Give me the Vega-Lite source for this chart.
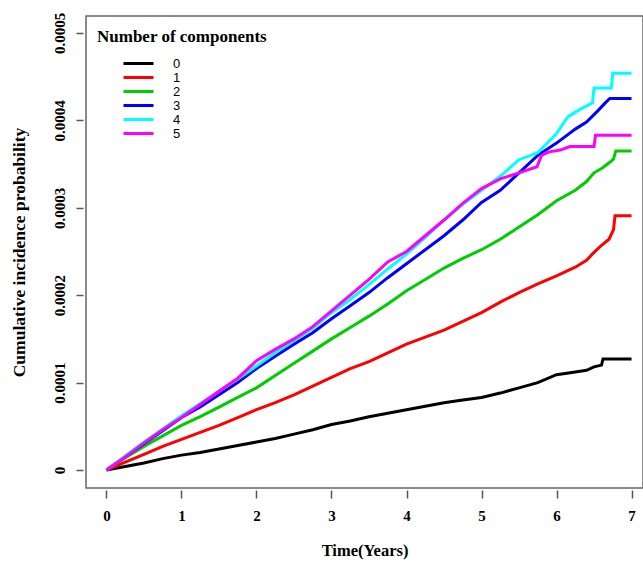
{
 "$schema": "https://vega.github.io/schema/vega-lite/v6.json",
 "width": 557, "height": 472,
 "autosize": "none",
 "padding": {"left": 86, "top": 16, "right": 0, "bottom": 74},
 "background": "white",
 "config": {"view": {"stroke": "#666666", "strokeWidth": 1.5}},
 "datasets": {"curves": [
  {"g":"0","t":0,"v":0},{"g":"0","t":0.25,"v":0.04e-4},{"g":"0","t":0.5,"v":0.08e-4},{"g":"0","t":0.75,"v":0.13e-4},{"g":"0","t":1,"v":0.17e-4},{"g":"0","t":1.25,"v":0.2e-4},{"g":"0","t":1.5,"v":0.24e-4},{"g":"0","t":1.75,"v":0.28e-4},{"g":"0","t":2,"v":0.32e-4},{"g":"0","t":2.25,"v":0.36e-4},{"g":"0","t":2.5,"v":0.41e-4},{"g":"0","t":2.75,"v":0.46e-4},{"g":"0","t":3,"v":0.52e-4},{"g":"0","t":3.25,"v":0.56e-4},{"g":"0","t":3.5,"v":0.61e-4},{"g":"0","t":3.75,"v":0.65e-4},{"g":"0","t":4,"v":0.69e-4},{"g":"0","t":4.25,"v":0.73e-4},{"g":"0","t":4.5,"v":0.77e-4},{"g":"0","t":4.75,"v":0.8e-4},{"g":"0","t":5,"v":0.83e-4},{"g":"0","t":5.25,"v":0.88e-4},{"g":"0","t":5.5,"v":0.94e-4},{"g":"0","t":5.75,"v":1.0e-4},{"g":"0","t":6,"v":1.09e-4},{"g":"0","t":6.25,"v":1.12e-4},{"g":"0","t":6.4,"v":1.14e-4},{"g":"0","t":6.5,"v":1.18e-4},{"g":"0","t":6.6,"v":1.2e-4},{"g":"0","t":6.62,"v":1.27e-4},{"g":"0","t":7,"v":1.27e-4},
  {"g":"1","t":0,"v":0},{"g":"1","t":0.25,"v":0.09e-4},{"g":"1","t":0.5,"v":0.18e-4},{"g":"1","t":0.75,"v":0.27e-4},{"g":"1","t":1,"v":0.35e-4},{"g":"1","t":1.25,"v":0.43e-4},{"g":"1","t":1.5,"v":0.51e-4},{"g":"1","t":1.75,"v":0.6e-4},{"g":"1","t":2,"v":0.69e-4},{"g":"1","t":2.25,"v":0.77e-4},{"g":"1","t":2.5,"v":0.86e-4},{"g":"1","t":2.75,"v":0.96e-4},{"g":"1","t":3,"v":1.06e-4},{"g":"1","t":3.25,"v":1.16e-4},{"g":"1","t":3.5,"v":1.24e-4},{"g":"1","t":3.75,"v":1.34e-4},{"g":"1","t":4,"v":1.44e-4},{"g":"1","t":4.25,"v":1.52e-4},{"g":"1","t":4.5,"v":1.6e-4},{"g":"1","t":4.75,"v":1.7e-4},{"g":"1","t":5,"v":1.8e-4},{"g":"1","t":5.25,"v":1.92e-4},{"g":"1","t":5.5,"v":2.03e-4},{"g":"1","t":5.75,"v":2.13e-4},{"g":"1","t":6,"v":2.22e-4},{"g":"1","t":6.25,"v":2.32e-4},{"g":"1","t":6.4,"v":2.4e-4},{"g":"1","t":6.5,"v":2.49e-4},{"g":"1","t":6.6,"v":2.57e-4},{"g":"1","t":6.7,"v":2.64e-4},{"g":"1","t":6.76,"v":2.75e-4},{"g":"1","t":6.78,"v":2.91e-4},{"g":"1","t":7,"v":2.91e-4},
  {"g":"2","t":0,"v":0},{"g":"2","t":0.25,"v":0.14e-4},{"g":"2","t":0.5,"v":0.27e-4},{"g":"2","t":0.75,"v":0.39e-4},{"g":"2","t":1,"v":0.51e-4},{"g":"2","t":1.25,"v":0.61e-4},{"g":"2","t":1.5,"v":0.72e-4},{"g":"2","t":1.75,"v":0.83e-4},{"g":"2","t":2,"v":0.94e-4},{"g":"2","t":2.25,"v":1.08e-4},{"g":"2","t":2.5,"v":1.22e-4},{"g":"2","t":2.75,"v":1.36e-4},{"g":"2","t":3,"v":1.5e-4},{"g":"2","t":3.25,"v":1.63e-4},{"g":"2","t":3.5,"v":1.76e-4},{"g":"2","t":3.75,"v":1.9e-4},{"g":"2","t":4,"v":2.05e-4},{"g":"2","t":4.25,"v":2.18e-4},{"g":"2","t":4.5,"v":2.31e-4},{"g":"2","t":4.75,"v":2.42e-4},{"g":"2","t":5,"v":2.52e-4},{"g":"2","t":5.25,"v":2.64e-4},{"g":"2","t":5.5,"v":2.78e-4},{"g":"2","t":5.75,"v":2.92e-4},{"g":"2","t":6,"v":3.08e-4},{"g":"2","t":6.25,"v":3.2e-4},{"g":"2","t":6.4,"v":3.3e-4},{"g":"2","t":6.5,"v":3.4e-4},{"g":"2","t":6.6,"v":3.45e-4},{"g":"2","t":6.71,"v":3.52e-4},{"g":"2","t":6.76,"v":3.56e-4},{"g":"2","t":6.79,"v":3.65e-4},{"g":"2","t":7,"v":3.65e-4},
  {"g":"3","t":0,"v":0},{"g":"3","t":0.25,"v":0.15e-4},{"g":"3","t":0.5,"v":0.3e-4},{"g":"3","t":0.75,"v":0.45e-4},{"g":"3","t":1,"v":0.6e-4},{"g":"3","t":1.25,"v":0.72e-4},{"g":"3","t":1.5,"v":0.86e-4},{"g":"3","t":1.75,"v":1.0e-4},{"g":"3","t":2,"v":1.16e-4},{"g":"3","t":2.25,"v":1.3e-4},{"g":"3","t":2.5,"v":1.44e-4},{"g":"3","t":2.75,"v":1.57e-4},{"g":"3","t":3,"v":1.73e-4},{"g":"3","t":3.25,"v":1.88e-4},{"g":"3","t":3.5,"v":2.03e-4},{"g":"3","t":3.75,"v":2.2e-4},{"g":"3","t":4,"v":2.36e-4},{"g":"3","t":4.25,"v":2.52e-4},{"g":"3","t":4.5,"v":2.68e-4},{"g":"3","t":4.75,"v":2.86e-4},{"g":"3","t":5,"v":3.06e-4},{"g":"3","t":5.25,"v":3.2e-4},{"g":"3","t":5.5,"v":3.4e-4},{"g":"3","t":5.75,"v":3.6e-4},{"g":"3","t":6,"v":3.74e-4},{"g":"3","t":6.25,"v":3.9e-4},{"g":"3","t":6.4,"v":3.98e-4},{"g":"3","t":6.54,"v":4.1e-4},{"g":"3","t":6.65,"v":4.2e-4},{"g":"3","t":6.71,"v":4.25e-4},{"g":"3","t":7,"v":4.25e-4},
  {"g":"4","t":0,"v":0},{"g":"4","t":0.25,"v":0.16e-4},{"g":"4","t":0.5,"v":0.32e-4},{"g":"4","t":0.75,"v":0.47e-4},{"g":"4","t":1,"v":0.62e-4},{"g":"4","t":1.25,"v":0.76e-4},{"g":"4","t":1.5,"v":0.9e-4},{"g":"4","t":1.75,"v":1.04e-4},{"g":"4","t":2,"v":1.19e-4},{"g":"4","t":2.25,"v":1.34e-4},{"g":"4","t":2.5,"v":1.48e-4},{"g":"4","t":2.75,"v":1.62e-4},{"g":"4","t":3,"v":1.8e-4},{"g":"4","t":3.25,"v":1.95e-4},{"g":"4","t":3.5,"v":2.12e-4},{"g":"4","t":3.75,"v":2.3e-4},{"g":"4","t":4,"v":2.47e-4},{"g":"4","t":4.25,"v":2.66e-4},{"g":"4","t":4.5,"v":2.86e-4},{"g":"4","t":4.75,"v":3.04e-4},{"g":"4","t":5,"v":3.2e-4},{"g":"4","t":5.25,"v":3.36e-4},{"g":"4","t":5.5,"v":3.55e-4},{"g":"4","t":5.75,"v":3.63e-4},{"g":"4","t":6,"v":3.85e-4},{"g":"4","t":6.15,"v":4.04e-4},{"g":"4","t":6.3,"v":4.12e-4},{"g":"4","t":6.48,"v":4.2e-4},{"g":"4","t":6.5,"v":4.37e-4},{"g":"4","t":6.73,"v":4.37e-4},{"g":"4","t":6.75,"v":4.54e-4},{"g":"4","t":7,"v":4.54e-4},
  {"g":"5","t":0,"v":0},{"g":"5","t":0.25,"v":0.15e-4},{"g":"5","t":0.5,"v":0.31e-4},{"g":"5","t":0.75,"v":0.46e-4},{"g":"5","t":1,"v":0.6e-4},{"g":"5","t":1.25,"v":0.75e-4},{"g":"5","t":1.5,"v":0.9e-4},{"g":"5","t":1.75,"v":1.05e-4},{"g":"5","t":2,"v":1.25e-4},{"g":"5","t":2.25,"v":1.38e-4},{"g":"5","t":2.5,"v":1.5e-4},{"g":"5","t":2.75,"v":1.64e-4},{"g":"5","t":3,"v":1.82e-4},{"g":"5","t":3.25,"v":2.0e-4},{"g":"5","t":3.5,"v":2.18e-4},{"g":"5","t":3.75,"v":2.38e-4},{"g":"5","t":4,"v":2.5e-4},{"g":"5","t":4.25,"v":2.68e-4},{"g":"5","t":4.5,"v":2.86e-4},{"g":"5","t":4.75,"v":3.05e-4},{"g":"5","t":5,"v":3.22e-4},{"g":"5","t":5.25,"v":3.33e-4},{"g":"5","t":5.5,"v":3.4e-4},{"g":"5","t":5.74,"v":3.47e-4},{"g":"5","t":5.8,"v":3.6e-4},{"g":"5","t":5.9,"v":3.64e-4},{"g":"5","t":6.05,"v":3.66e-4},{"g":"5","t":6.18,"v":3.7e-4},{"g":"5","t":6.5,"v":3.7e-4},{"g":"5","t":6.52,"v":3.83e-4},{"g":"5","t":7,"v":3.83e-4}
 ]},
 "data": {"name": "curves"},
 "mark": {"type": "line", "interpolate": "linear", "strokeWidth": 3, "clip": true},
 "encoding": {
  "x": {"field": "t", "type": "quantitative",
   "scale": {"domain": [-0.273, 7.153], "nice": false, "zero": false},
   "axis": {"values": [0,1,2,3,4,5,6,7], "title": "Time(Years)", "grid": false, "domain": false, "offset": 2, "tickSize": 8, "tickColor": "#555555", "tickWidth": 1.5, "labelFont": "Liberation Serif", "labelFontWeight": "bold", "labelFontSize": 15, "labelColor": "black", "labelPadding": 10, "labelFlush": false, "titleFont": "Liberation Serif", "titleFontSize": 16.5, "titleFontWeight": "bold", "titleColor": "black", "titlePadding": 19}},
  "y": {"field": "v", "type": "quantitative",
   "scale": {"domain": [-0.0000206, 0.0005194], "nice": false, "zero": false},
   "axis": {"values": [0, 0.0001, 0.0002, 0.0003, 0.0004, 0.0005], "format": ".4~f", "title": "Cumulative incidence probability", "grid": false, "domain": false, "offset": 3, "tickSize": 7, "tickColor": "#555555", "tickWidth": 1.5, "labelFont": "Liberation Serif", "labelFontWeight": "bold", "labelFontSize": 15, "labelColor": "black", "labelAngle": -90, "labelAlign": "center", "labelBaseline": "bottom", "labelPadding": 9, "labelFlush": false, "titleFont": "Liberation Serif", "titleFontSize": 17.5, "titleFontWeight": "bold", "titleColor": "black", "titlePadding": 24}},
  "color": {"field": "g", "type": "nominal",
   "scale": {"domain": ["0","1","2","3","4","5"], "range": ["#000000","#FF0000","#00CD00","#0000FF","#00FFFF","#FF00FF"]},
   "legend": {"title": "Number of components", "orient": "none", "legendX": 11, "legendY": 13, "padding": 0, "titleFont": "Liberation Serif", "titleFontSize": 17, "titleFontWeight": "bold", "titleColor": "black", "titlePadding": 11, "symbolType": "M4,0H10", "symbolSize": 100, "symbolStrokeWidth": 3, "labelFont": "Liberation Sans", "labelFontSize": 13, "labelColor": "black", "labelOffset": 63, "rowPadding": 0}}
 }
}
